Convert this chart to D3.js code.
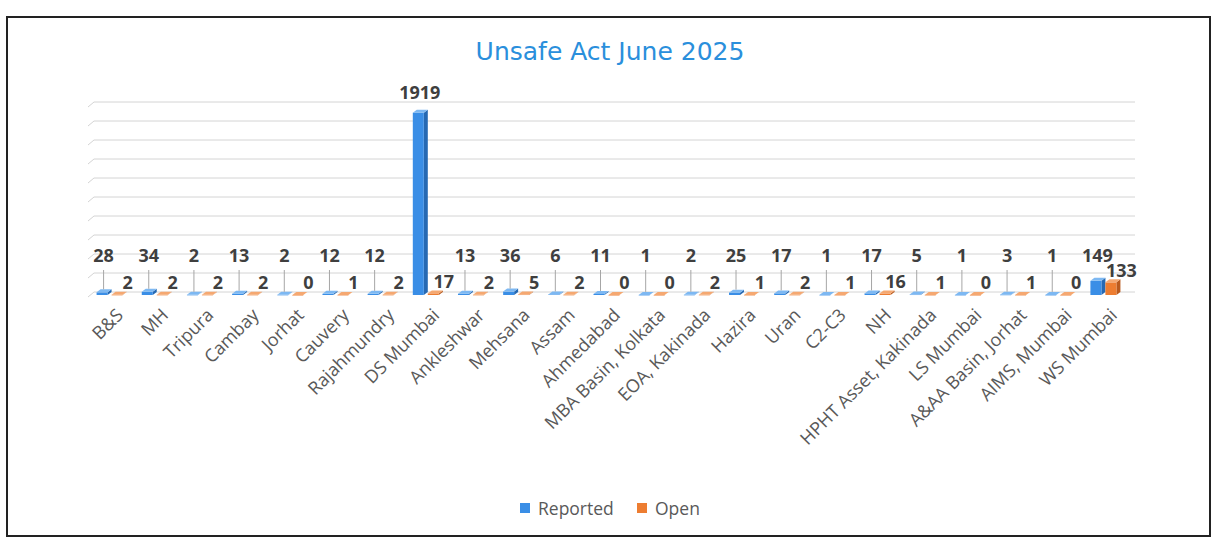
<!DOCTYPE html>
<html>
<head>
<meta charset="utf-8">
<script src="https://cdn.jsdelivr.net/npm/d3@7"></script>
<style>
  body { margin: 0; background: #fff; }
  svg { display: block; }
</style>
</head>
<body>
<svg width="1211" height="538"></svg>
<script>
var categories = ["B&S", "MH", "Tripura", "Cambay", "Jorhat", "Cauvery", "Rajahmundry", "DS Mumbai",
  "Ankleshwar", "Mehsana", "Assam", "Ahmedabad", "MBA Basin, Kolkata", "EOA, Kakinada", "Hazira",
  "Uran", "C2-C3", "NH", "HPHT Asset, Kakinada", "LS Mumbai", "A&AA Basin, Jorhat", "AIMS, Mumbai", "WS Mumbai"];
var reported = [28, 34, 2, 13, 2, 12, 12, 1919, 13, 36, 6, 11, 1, 2, 25, 17, 1, 17, 5, 1, 3, 1, 149];
var open = [2, 2, 2, 2, 0, 1, 2, 17, 2, 5, 2, 0, 0, 2, 1, 2, 1, 16, 1, 0, 1, 0, 133];
var gridTicks = [0, 200, 400, 600, 800, 1000, 1200, 1400, 1600, 1800, 2000];
var seriesNames = ["Reported", "Open"];

var colors = [
  {front: "#3a8ee6", side: "#2669b3", top: "#7db8f2"},
  {front: "#ed7d31", side: "#b95a1e", top: "#f5a871"}
];

var svg = d3.select("svg");

// frame
svg.append("rect")
    .attr("x", 7).attr("y", 17)
    .attr("width", 1203).attr("height", 519)
    .attr("fill", "#fff")
    .attr("stroke", "#222").attr("stroke-width", 2);

svg.append("text")
    .attr("x", 610).attr("y", 60)
    .attr("text-anchor", "middle")
    .attr("font-family", "'DejaVu Sans', sans-serif")
    .attr("font-size", 25)
    .attr("fill", "#2a8fdc")
    .text("Unsafe Act June 2025");

var x = d3.scaleBand().domain(categories).range([89, 1128]);
var y = d3.scaleLinear().domain([0, 2000]).range([292, 102]);

var gx0 = 94, gx1 = 1135;

// back wall gridlines
svg.append("g").selectAll("path")
    .data(gridTicks)
  .enter().append("path")
    .attr("d", function(d) {
      return "M" + (gx0 - 6) + "," + (y(d) + 5) + "L" + gx0 + "," + y(d) + "L" + gx1 + "," + y(d);
    })
    .attr("fill", "none")
    .attr("stroke", "#d4d4d4")
    .attr("stroke-width", 1);

var w = 11, dx = 4, dy = 3;

function cx(c) { return x(c) + x.bandwidth() / 2; }

var bars = svg.append("g");
categories.forEach(function(c, i) {
  [reported[i], open[i]].forEach(function(v, s) {
    var fx = cx(c) - 15 + s * 15;
    var ft = y(v) + dy, fb = y(0) + dy;
    var col = colors[s];
    var g = bars.append("g");
    g.append("path")
        .attr("d", "M" + (fx + w) + "," + ft + "L" + (fx + w + dx) + "," + (ft - dy) +
              "L" + (fx + w + dx) + "," + (fb - dy) + "L" + (fx + w) + "," + fb + "Z")
        .attr("fill", col.side);
    g.append("rect")
        .attr("x", fx).attr("y", ft)
        .attr("width", w).attr("height", Math.max(fb - ft, 0.5))
        .attr("fill", col.front);
    g.append("path")
        .attr("d", "M" + fx + "," + ft + "L" + (fx + dx) + "," + (ft - dy) +
              "L" + (fx + w + dx) + "," + (ft - dy) + "L" + (fx + w) + "," + ft + "Z")
        .attr("fill", col.top);
  });
});

// data labels
var labels = svg.append("g")
    .attr("font-family", "'Open Sans', sans-serif")
    .attr("font-weight", "bold")
    .attr("font-size", 18)
    .attr("fill", "#3f3f3f")
    .attr("text-anchor", "middle");

categories.forEach(function(c, i) {
  var rv = reported[i], lx = cx(c) - 8;
  var base = Math.min(262, y(rv) - 11);
  if (y(rv) - base > 18) {
    labels.append("line")
        .attr("x1", lx).attr("x2", lx)
        .attr("y1", base + 8).attr("y2", y(rv))
        .attr("stroke", "#a6a6a6").attr("stroke-width", 1);
  }
  labels.append("text").attr("x", lx).attr("y", base).text(rv);

  var ov = open[i];
  labels.append("text")
      .attr("x", cx(c) + 16)
      .attr("y", Math.min(289, y(ov) - 2))
      .text(ov);
});

// category axis
var xAxis = svg.append("g")
    .attr("transform", "translate(0,306)")
    .call(d3.axisBottom(x).tickSize(0).tickPadding(0));
xAxis.select(".domain").remove();
xAxis.selectAll("text")
    .attr("font-family", "'Open Sans', sans-serif")
    .attr("font-size", 18)
    .attr("fill", "#595959")
    .attr("text-anchor", "end")
    .attr("dx", "0.1em")
    .attr("dy", "0.9em")
    .attr("transform", "rotate(-45)");

// legend
var legend = svg.append("g")
    .attr("font-family", "'Open Sans', sans-serif")
    .attr("font-size", 17.5)
    .attr("fill", "#595959");
var legendX = [520, 637];
seriesNames.forEach(function(n, s) {
  legend.append("rect")
      .attr("x", legendX[s]).attr("y", 503)
      .attr("width", 10).attr("height", 10)
      .attr("fill", colors[s].front);
  legend.append("text")
      .attr("x", legendX[s] + 18).attr("y", 515)
      .text(n);
});
</script>
</body>
</html>
